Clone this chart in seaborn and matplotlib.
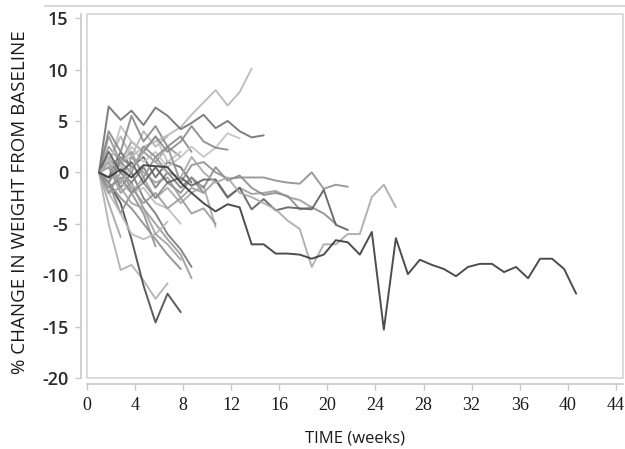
import pandas as pd
import seaborn as sns
import matplotlib.pyplot as plt
from matplotlib.lines import Line2D
from matplotlib.patches import Rectangle

# visit times (weeks); subject k uses the first len(values) of these
TIME_WEEKS = [1.0, 1.8, 2.8, 3.7, 4.7, 5.7, 6.7, 7.8, 8.7, 9.7, 10.7, 11.7, 12.7, 13.7,
              14.7, 15.7, 16.7, 17.7, 18.7, 19.7, 20.7, 21.7, 22.7, 23.7, 24.7, 25.7,
              26.7, 27.7, 28.7, 29.7, 30.7, 31.7, 32.7, 33.7, 34.7, 35.7, 36.7, 37.7,
              38.7, 39.7, 40.7]

# % change in weight from baseline, one list per subject
pct_s01 = [0, -5.0, -9.5, -9.0, -10.5, -12.3, -10.8]
pct_s02 = [0, -1.0, -3.0, -6.5, -11.0, -14.6, -11.8, -13.6]
pct_s03 = [0, -1.0, -2.5, -3.5, -5.0, -6.5, -8.0, -9.4]
pct_s04 = [0, 0.5, -2.0, -1.0, -3.5, -5.0, -6.5, -8.0, -10.3]
pct_s05 = [0, 1.0, -1.5, 0.0, -2.5, -4.0, -6.0, -7.5, -9.2]
pct_s06 = [0, -3.0, -6.3]
pct_s07 = [0, -1.0, -4.0, -2.0, -4.0, -7.2]
pct_s08 = [0, 1.5, -1.0, -2.0, -1.5, -3.0, -3.5, -5.0]
pct_s09 = [0, -2.0, -4.0, -6.0, -6.5, -6.0, -4.8]
pct_s10 = [0, -2.0, -1.5, -3.0, -3.5, -6.0, -7.0, -8.5]
pct_s11 = [0, 2.5, 1.0, 3.0, 2.0, 1.0, 2.5, 1.5]
pct_s12 = [0, 1.0, 3.5, 1.5, 4.0, 2.5, 3.5]
pct_s13 = [0, -0.5, 2.0, 0.5, 1.5, -0.5, 1.0, 0.5, -1.0]
pct_s14 = [0, 1.5, 0.0, -1.0, 0.5, -1.5, 0.0, -1.5, -0.5, -2.0]
pct_s15 = [0, 0.5, 4.5, 3.0, 2.0, 3.5, 1.0, 2.0]
pct_s16 = [0, -1.0, 1.0, -2.0, -0.5, -2.5, -1.5, -3.0, -2.0, -1.3, -5.3]
pct_s17 = [0, 3.5, 1.0, 2.0, -0.5, 1.5, 0.0]
pct_s18 = [0, 4.0, 2.0, 5.5, 3.0, 4.5, 2.5, 3.5, 2.0]
pct_s19 = [0, -2.0, 0.0, -1.5, -3.0, -2.0, -3.5, -2.5, -4.0, -3.5, -5.0]
pct_s20 = [0, 0.5, 1.0, 1.5, 2.5, 3.0, 3.6, 4.4, 5.6, 6.8, 8.0, 6.5, 7.8, 10.1]
pct_s21 = [0, 6.4, 5.1, 6.0, 4.6, 6.3, 5.5, 4.2, 4.8, 5.6, 4.3, 5.0, 4.0, 3.4, 3.6]
pct_s22 = [0, 1.5, 0.5, 2.5, 1.0, 2.0, 0.5, 1.5, 2.5, 1.5, 2.4, 3.8, 3.3]
pct_s23 = [0, -1.0, 1.5, 0.5, 2.0, 3.5, 2.0, 3.0, 4.5, 3.0, 2.4, 2.2]
pct_s24 = [0, 0.5, -1.0, 1.5, 0.0, -1.0, -0.5, -2.5, -1.5, -2.0, -0.8, -2.5, -1.5,
           -2.1, -2.0, -1.8, -2.4, -2.7, -3.4]
pct_s25 = [0, -1.5, -0.5, -2.0, -1.0, -2.5, -1.0, -2.0, -0.5, -1.5, 0.5, -0.8, -0.3,
           -1.5, -2.2, -2.0, -2.3, -3.6, -3.4, -4.0, -5.0]
pct_s26 = [0, -1.0, 1.0, 0.0, 2.5, 1.5, 2.5, -1.0, 0.7, 1.0, 0.0, -0.6, -0.5, -0.5,
           -0.5, -0.8, -1.0, -1.1, 0.0, -1.6, -1.2, -1.4]
pct_s27 = [0, 2.0, 0.0, 1.0, -1.0, 0.5, -1.0, -0.5, -1.3, -0.7, -0.7, -2.4, -1.5, -3.6,
           -2.6, -3.7, -3.4, -3.5, -3.6, -1.7, -5.1, -5.6]
pct_s28 = [0, 1.0, -1.0, 0.5, 2.0, 1.0, 0.0, -0.5, 1.5, 0.0, -1.0, -0.5, -2.0, -2.4,
           -3.0, -3.6, -4.7, -5.5, -9.2, -7.0, -7.0, -6.0, -6.0, -2.4, -1.2, -3.4]
pct_s29 = [0, -0.5, 0.3, -0.5, 0.7, 0.6, 0.5, -1.0, -2.0, -3.0, -3.8, -3.1, -3.4, -7.0,
           -7.0, -7.9, -7.9, -8.0, -8.4, -8.0, -6.6, -6.8, -8.0, -5.8, -15.3, -6.4,
           -9.9, -8.5, -9.0, -9.4, -10.1, -9.2, -8.9, -8.9, -9.7, -9.2, -10.3, -8.4,
           -8.4, -9.4, -11.8]

subjects = [pct_s01, pct_s02, pct_s03, pct_s04, pct_s05, pct_s06, pct_s07, pct_s08,
            pct_s09, pct_s10, pct_s11, pct_s12, pct_s13, pct_s14, pct_s15, pct_s16,
            pct_s17, pct_s18, pct_s19, pct_s20, pct_s21, pct_s22, pct_s23, pct_s24,
            pct_s25, pct_s26, pct_s27, pct_s28, pct_s29]
grays = ["#b0b0b0", "#4a4a4a", "#8c8c8c", "#9a9a9a", "#7a7a7a", "#a5a5a5", "#8f8f8f",
         "#bdbdbd", "#b8b8b8", "#a0a0a0", "#9c9c9c", "#b5b5b5", "#6a6a6a", "#808080",
         "#c0c0c0", "#a8a8a8", "#959595", "#888888", "#9a9a9a", "#b8b8b8", "#707070",
         "#c4c4c4", "#8a8a8a", "#9e9e9e", "#8c8c8c", "#909090", "#5e5e5e", "#a9a9a9",
         "#3a3a3a"]

rows = []
for i, vals in enumerate(subjects):
    for w, v in zip(TIME_WEEKS, vals):
        rows.append({"subject": f"S{i + 1:02d}", "week": w, "pct": v})
df = pd.DataFrame(rows)
palette = {f"S{i + 1:02d}": c for i, c in enumerate(grays)}

sns.set_theme(style="white")
plt.rcParams["axes.unicode_minus"] = False

fig = plt.figure(figsize=(6.25, 4.49), dpi=100)
ax = fig.add_axes([87 / 625, 1 - 378 / 449, 536 / 625, 364 / 449])

sns.lineplot(data=df, x="week", y="pct", hue="subject", units="subject", estimator=None,
             palette=palette, legend=False, lw=1.4, alpha=0.9, ax=ax)

ax.set_xlim(0, 44.6)
ax.set_ylim(-20, 15.4)
ax.set_xticks(range(0, 45, 4))
ax.set_yticks(range(-20, 16, 5))

# light frame round the plot area, axis lines pushed outward
ax.add_patch(Rectangle((0, 0), 1, 1, transform=ax.transAxes, fill=False,
                       ec="#d6d6d6", lw=1.2, clip_on=False))
for side in ["top", "right"]:
    ax.spines[side].set_visible(False)
for side in ["left", "bottom"]:
    ax.spines[side].set_position(("outward", 4.5))
    ax.spines[side].set_color("#c8c8c8")
    ax.spines[side].set_linewidth(1.2)
ax.spines["left"].set_bounds(-20, 15.4)
ax.spines["bottom"].set_bounds(0, 44.6)

ax.tick_params(axis="both", direction="out", length=4, width=1, color="#c8c8c8",
               left=True, bottom=True, pad=5)
for lab in ax.get_xticklabels():
    lab.set_fontfamily("Liberation Serif")
    lab.set_fontsize(13)
    lab.set_color("#1a1a1a")
for lab in ax.get_yticklabels():
    lab.set_fontfamily("Open Sans")
    lab.set_fontsize(13)
    lab.set_color("#2a2a2a")
    lab.set_fontweight("semibold")

ax.set_xlabel("TIME (weeks)", fontfamily="Open Sans", fontsize=12, color="#1a1a1a")
ax.set_ylabel("% CHANGE IN WEIGHT FROM BASELINE", fontfamily="Open Sans", fontsize=13.5,
              color="#1a1a1a")
ax.xaxis.set_label_coords(0.5, -0.145)
ax.yaxis.set_label_coords(-0.108, 0.484)

fig.add_artist(Line2D([45 / 625, 1], [1 - 5.5 / 449, 1 - 5.5 / 449], color="#d8d8d8", lw=1.5))

fig.savefig("out.png", dpi=100)
